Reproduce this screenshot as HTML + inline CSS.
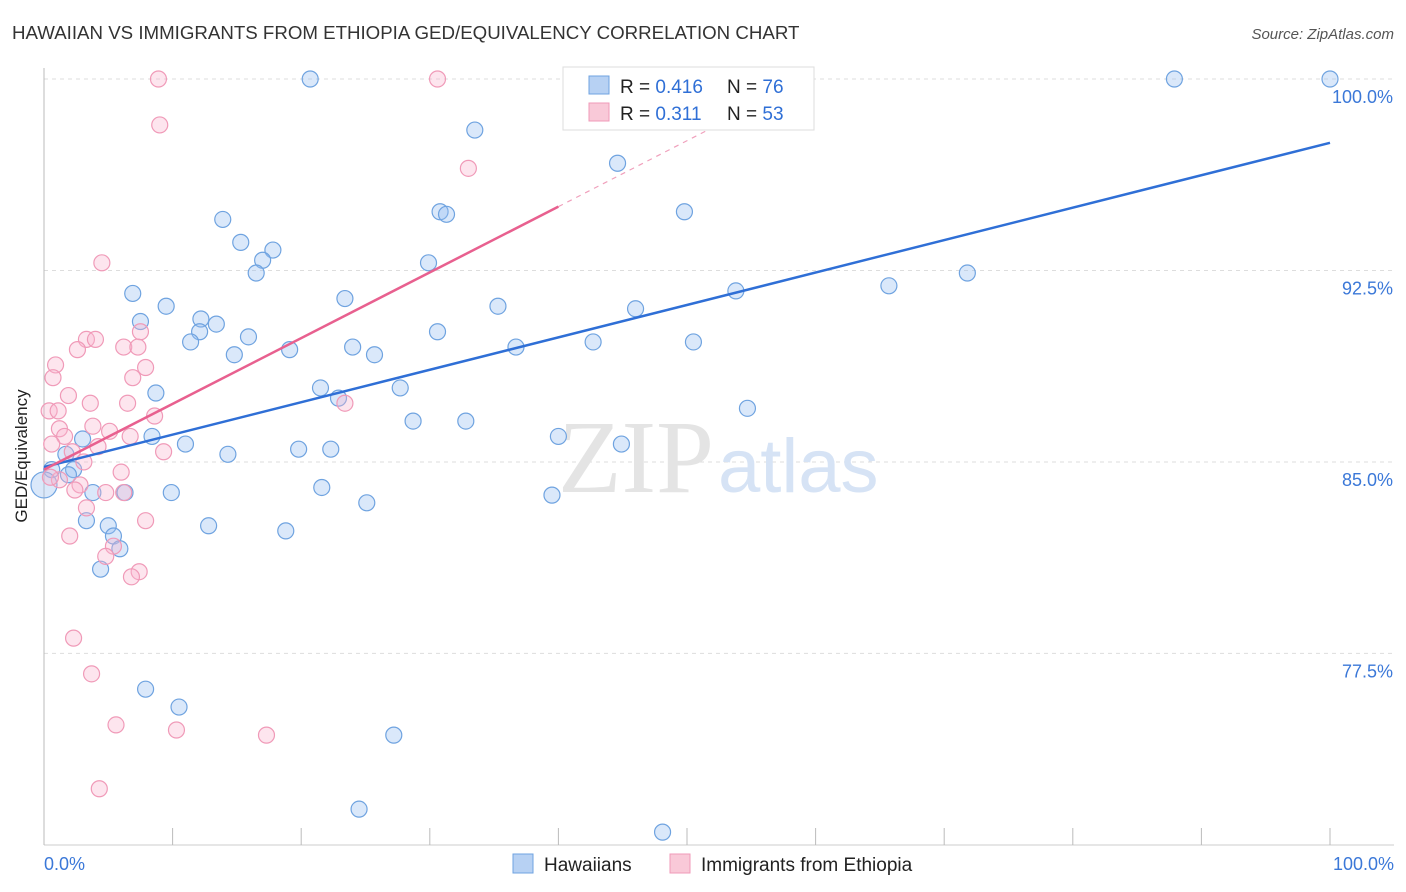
<!DOCTYPE html>
<html><head><meta charset="utf-8"><style>
body{margin:0;background:#fff;font-family:"Liberation Sans",sans-serif;}
svg{display:block}
</style></head><body>
<svg id="chart" width="1406" height="892" xmlns="http://www.w3.org/2000/svg">
<text x="12" y="39" font-size="18.7" fill="#333">HAWAIIAN VS IMMIGRANTS FROM ETHIOPIA GED/EQUIVALENCY CORRELATION CHART</text>
<text x="1394" y="39" font-size="15" fill="#555" font-style="italic" text-anchor="end">Source: ZipAtlas.com</text>
<g id="grid"></g>
<text x="714" y="492" font-size="104" fill="#e4e4e4" font-family="Liberation Serif,serif" text-anchor="end">ZIP</text>
<text x="718" y="492" font-size="76" fill="#d6e3f5">atlas</text>
<g id="axes"></g>
<g id="pts"></g>
<g id="trend"></g>
<text x="27" y="456" font-size="17" fill="#222" text-anchor="middle" transform="rotate(-90 27 456)">GED/Equivalency</text>
<text x="44" y="870" font-size="18" fill="#3b78d8">0.0%</text>
<text x="1394" y="870" font-size="18" fill="#3b78d8" text-anchor="end">100.0%</text>
<g>
<rect x="563" y="67" width="251" height="63" fill="#fff" stroke="#ddd"/>
<rect x="589" y="76" width="20" height="18" fill="#b7d1f3" stroke="#6fa3e0"/>
<rect x="589" y="103" width="20" height="18" fill="#f9c9d8" stroke="#f09ab8"/>
<text x="620" y="93" font-size="19" fill="#222">R = <tspan fill="#2f6fd6">0.416</tspan></text>
<text x="727" y="93" font-size="19" fill="#222">N = <tspan fill="#2f6fd6">76</tspan></text>
<text x="620" y="120" font-size="19" fill="#222">R = <tspan fill="#2f6fd6"> 0.311</tspan></text>
<text x="727" y="120" font-size="19" fill="#222">N = <tspan fill="#2f6fd6">53</tspan></text>
</g>
<g>
<rect x="513" y="854" width="20" height="19" fill="#b7d1f3" stroke="#6fa3e0"/>
<text x="544" y="871" font-size="19" fill="#222">Hawaiians</text>
<rect x="670" y="854" width="20" height="19" fill="#f9c9d8" stroke="#f09ab8"/>
<text x="701" y="871" font-size="19" fill="#222">Immigrants from Ethiopia</text>
</g>
</svg>
<script>
const yTicks=[100,92.5,85,77.5];
const yTickLabels=["100.0%","92.5%","85.0%","77.5%"];
const xTicks=[0,10,20,30,40,50,60,70,80,90,100];
const blueX=[20.7,87.9,100,33.5,44.6,49.8,30.8,31.3,13.9,15.3,17.8,17.0,16.5,29.9,71.8,65.7,53.8,6.9,23.4,9.5,35.3,46.0,12.2,13.4,7.5,12.1,30.6,15.9,11.4,50.5,42.7,36.7,24.0,19.1,14.8,25.7,8.7,21.5,27.7,22.9,54.7,28.7,32.8,3.0,8.4,40.0,11.0,44.9,19.8,22.3,14.3,1.7,2.3,1.9,0.6,3.8,6.3,9.9,21.6,39.5,25.1,3.3,5.0,12.8,18.8,5.4,5.9,4.4,7.9,10.5,27.2,24.5,48.1,0];
const blueY=[100,100,100,98.0,96.7,94.8,94.8,94.7,94.5,93.6,93.3,92.9,92.4,92.8,92.4,91.9,91.7,91.6,91.4,91.1,91.1,91.0,90.6,90.4,90.5,90.1,90.1,89.9,89.7,89.7,89.7,89.5,89.5,89.4,89.2,89.2,87.7,87.9,87.9,87.5,87.1,86.6,86.6,85.9,86.0,86.0,85.7,85.7,85.5,85.5,85.3,85.3,84.7,84.5,84.7,83.8,83.8,83.8,84.0,83.7,83.4,82.7,82.5,82.5,82.3,82.1,81.6,80.8,76.1,75.4,74.3,71.4,70.5,84.1];
const pinkX=[8.9,30.6,9.0,33.0,4.5,3.3,4.0,7.5,6.2,7.3,2.6,0.9,7.9,0.7,6.9,1.9,3.6,6.5,0.4,1.1,8.6,1.2,5.1,6.7,3.8,1.6,0.6,2.2,4.2,9.3,3.1,6.0,2.8,2.4,4.8,6.2,3.3,7.9,2.0,5.4,4.8,7.4,6.8,2.3,3.7,5.6,10.3,17.3,4.3,23.4,1.2,0.5];
const pinkY=[100,100,98.2,96.5,92.8,89.8,89.8,90.1,89.5,89.5,89.4,88.8,88.7,88.3,88.3,87.6,87.3,87.3,87.0,87.0,86.8,86.3,86.2,86.0,86.4,86.0,85.7,85.4,85.6,85.4,85.0,84.6,84.1,83.9,83.8,83.8,83.2,82.7,82.1,81.7,81.3,80.7,80.5,78.1,76.7,74.7,74.5,74.3,72.2,87.3,84.3,84.4];
const blueTrend=[84.8,97.5];
const pinkTrend=[84.7,95.0,98.1];
const pinkTrendX=[0,40,52];
const NS="http://www.w3.org/2000/svg";
const sx=v=>44+v*12.86, sy=v=>79+(100-v)*25.53;
function mk(tag,attrs,parent){const e=document.createElementNS(NS,tag);for(const k in attrs)e.setAttribute(k,attrs[k]);parent.appendChild(e);return e;}
const grid=document.getElementById('grid'),axes=document.getElementById('axes'),pts=document.getElementById('pts'),tr=document.getElementById('trend');
yTicks.forEach((t,i)=>{
 const l=mk('line',{x1:44,x2:1394,y1:sy(t),y2:sy(t),stroke:'#ddd','stroke-dasharray':'4,4'},grid);
 
 
 const tx=mk('text',{x:1393,y:sy(t)+24,'font-size':18,fill:'#3b78d8','text-anchor':'end'},grid);
 tx.textContent=yTickLabels[i];
 
 
});
mk('line',{x1:44,x2:44,y1:68,y2:845,stroke:'#bbb'},axes);
mk('line',{x1:44,x2:1394,y1:845,y2:845,stroke:'#ccc'},axes);
xTicks.forEach(t=>{
 const l=mk('line',{x1:sx(t),x2:sx(t),y1:828,y2:845,stroke:'#bbb'},axes);
 
 
});
blueX.forEach((x,i)=>{
 const c=mk('circle',{cx:sx(x),cy:sy(blueY[i]),r:i===blueX.length-1?13:8,fill:'rgba(150,190,240,0.35)',stroke:'#6fa3e0','stroke-width':1.2},pts);
 
 
});
pinkX.forEach((x,i)=>{
 const c=mk('circle',{cx:sx(x),cy:sy(pinkY[i]),r:8,fill:'rgba(248,180,205,0.35)',stroke:'#f09ab8','stroke-width':1.2},pts);
 
 
});
const bl=mk('line',{x1:sx(0),y1:sy(blueTrend[0]),x2:sx(100),y2:sy(blueTrend[1]),stroke:'#2f6fd6','stroke-width':2.5},tr);


const pl=mk('line',{x1:sx(pinkTrendX[0]),y1:sy(pinkTrend[0]),x2:sx(pinkTrendX[1]),y2:sy(pinkTrend[1]),stroke:'#e8608f','stroke-width':2.5},tr);


const pd=mk('line',{x1:sx(pinkTrendX[1]),y1:sy(pinkTrend[1]),x2:sx(pinkTrendX[2]),y2:sy(pinkTrend[2]),stroke:'#f0a0bc','stroke-width':1.2,'stroke-dasharray':'5,5'},tr);


</script>
</body></html>
